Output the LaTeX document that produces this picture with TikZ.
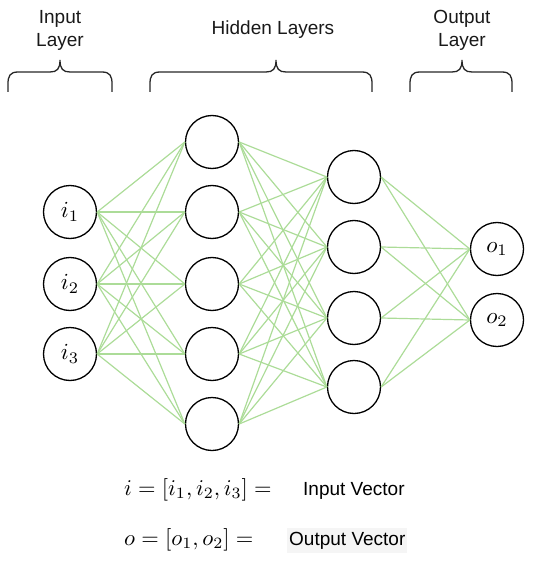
\documentclass[tikz,border=0pt]{standalone}
\usepackage{graphicx}
\usepackage{fontspec}
\setmainfont{Liberation Sans}
\newcommand{\nodemath}[1]{\scalebox{2.3}{$#1$}}
\newcommand{\eqmath}[1]{\scalebox{2.25}{$#1$}}
\begin{document}
\begin{tikzpicture}[x=1pt,y=-1pt,
  neuron/.style={circle,draw=black,line width=1.3pt,minimum size=53pt,inner sep=0pt},
  link/.style={draw={rgb,255:red,172;green,220;blue,152},line width=1.2pt},
  bracepath/.style={draw=black!85,line width=1.3pt},
  lbl/.style={font=\fontsize{19}{23}\selectfont,text=black!90,align=center,inner sep=0pt},
  eq/.style={inner sep=0pt,anchor=base west}]
\useasboundingbox (0,0) rectangle (550,564);
% nodes
\node[neuron] (in1) at (70,212) {\nodemath{i_1}};
\node[neuron] (in2) at (70,284) {\nodemath{i_2}};
\node[neuron] (in3) at (70,354) {\nodemath{i_3}};
\foreach \k/\y in {1/142,2/212,3/284,4/354,5/424}
  \node[neuron] (ha\k) at (212,\y) {};
\foreach \k/\y in {1/177,2/247,3/318,4/387}
  \node[neuron] (hb\k) at (354,\y) {};
\node[neuron] (out1) at (497,249) {\nodemath{o_1}};
\node[neuron] (out2) at (497,320) {\nodemath{o_2}};
% links
\foreach \a in {1,2,3}
  \foreach \b in {1,...,5}
    \draw[link] (in\a.east) -- (ha\b.west);
\foreach \a in {1,...,5}
  \foreach \b in {1,...,4}
    \draw[link] (ha\a.east) -- (hb\b.west);
\foreach \a in {1,...,4}
  \foreach \b in {1,2}
    \draw[link] (hb\a.east) -- (out\b.west);
% braces
\foreach \L/\M/\R in {8/60/112, 150/276/372, 410/462/512}{
  \draw[bracepath] (\L,92) -- (\L,84) .. controls (\L,76) and (\L+2,72) .. (\L+10,72)
     -- (\M-10,72) .. controls (\M-3,72) and (\M,69) .. (\M,60)
     .. controls (\M,69) and (\M+3,72) .. (\M+10,72)
     -- (\R-10,72) .. controls (\R-2,72) and (\R,76) .. (\R,84) -- (\R,92);
}
% labels
\node[lbl] (tin) at (60,30) {Input\\Layer};
\node[lbl] (thid) at (273,30) {Hidden Layers};
\node[lbl] (tout) at (462,30) {Output\\Layer};
% equations
\node[eq] (eq1) at (124,495) {\eqmath{i=[i_1,i_2,i_3]=}};
\node[eq,font=\fontsize{19}{23}\selectfont] (v1) at (303,495) {Input Vector};
\node[eq] (eq2) at (124,545) {\eqmath{o=[o_1,o_2]=}};
\node[eq,font=\fontsize{19}{23}\selectfont,fill=black!4,inner xsep=2pt,inner ysep=4pt] (v2) at (287,545) {Output Vector};
\end{tikzpicture}
\end{document}
